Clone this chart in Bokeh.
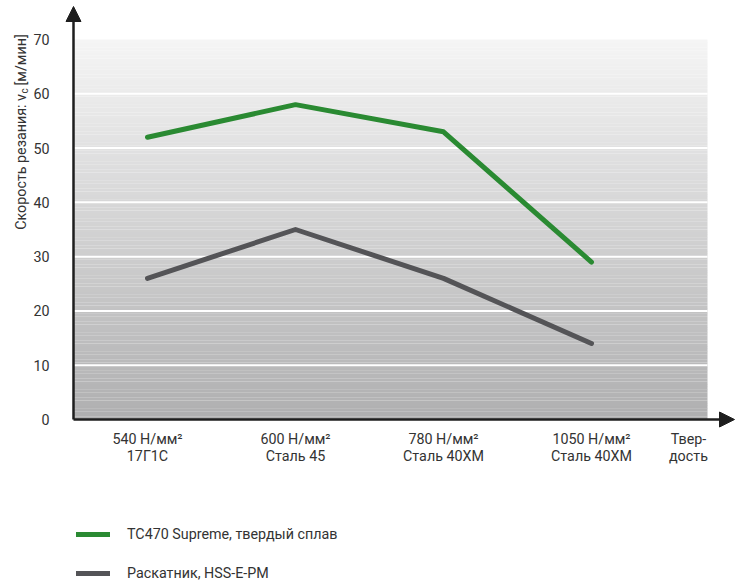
import math

from bokeh.core.properties import value
from bokeh.embed import file_html
from bokeh.models import (Arrow, ColumnDataSource, FixedTicker, Legend, LegendItem,
                          LinearAxis, NormalHead, Range1d)
from bokeh.plotting import figure
from bokeh.resources import INLINE

# --- data -------------------------------------------------------------------
categories = ["540 Н/мм²\n17Г1С", "600 Н/мм²\nСталь 45",
              "780 Н/мм²\nСталь 40ХМ", "1050 Н/мм²\nСталь 40ХМ"]
carbide_speed = [52, 58, 53, 29]      # TC470 Supreme
hss_speed = [26, 35, 26, 14]          # HSS-E-PM roller
y_ticks = [0, 10, 20, 30, 40, 50, 60, 70]
series_names = ["TC470 Supreme, твердый сплав", "Раскатник, HSS-E-PM"]
x_title = "Твер-\nдость"

# --- canvas geometry (pixels) ----------------------------------------------
W, H = 743, 580
AX_X, AX_Y = 73, 419          # where the axes cross
PX_CAT = 148.0                # pixels per category step
PX_UNIT = 380.0 / 70.0        # pixels per m/min
FONT = "Roboto"
FS = "14.3px"
TXT = "#333333"


def dx(px):
    return -0.5 + (px - AX_X) / PX_CAT


def dy(py):
    return (AX_Y - py) / PX_UNIT


xs = list(range(len(categories)))
x_left = dx(AX_X)
x_right = dx(707)
y_top = y_ticks[-1]

p = figure(width=W, height=H, output_backend="svg", toolbar_location=None,
           x_range=Range1d(dx(0), dx(W)), y_range=Range1d(dy(H), dy(0)),
           x_axis_location=None, y_axis_location=None, min_border=0,
           outline_line_color=None, background_fill_color="white",
           border_fill_color="white")
for g in p.grid:
    g.visible = False

# gradient backdrop: light at the top, darker toward zero
n_bands = 140
lo, hi = (0xAF, 0xAF, 0xB0), (0xF5, 0xF5, 0xF5)
band_h = y_top / n_bands
bottoms, tops, colors = [], [], []
for i in range(n_bands):
    t = (i + 0.5) / n_bands
    c = tuple(int(round(lo[k] + (hi[k] - lo[k]) * t)) for k in range(3))
    bottoms.append(i * band_h)
    tops.append((i + 1) * band_h + 0.02)
    colors.append("#%02x%02x%02x" % c)
p.quad(left=x_left, right=x_right, bottom=bottoms, top=tops,
       fill_color=colors, line_color=None)

# white horizontal grid lines
grid_y = [t for t in y_ticks if 0 < t < y_top]
p.segment(x0=x_left, x1=x_right, y0=grid_y, y1=grid_y,
          line_color="white", line_width=2)

# series
src = ColumnDataSource(dict(x=xs, carbide=carbide_speed, hss=hss_speed))
r_green = p.line("x", "carbide", source=src, line_color="#2a8a32", line_width=5,
                 line_cap="round", line_join="round")
r_gray = p.line("x", "hss", source=src, line_color="#545457", line_width=5,
                line_cap="round", line_join="round")

# axes with arrow heads
axis_color = "#1e1e1e"
p.add_layout(Arrow(end=NormalHead(size=15, fill_color=axis_color, line_color=axis_color),
                   x_start=x_left, y_start=0, x_end=x_left, y_end=dy(6),
                   line_color=axis_color, line_width=2.5))
p.add_layout(Arrow(end=NormalHead(size=15, fill_color=axis_color, line_color=axis_color),
                   x_start=x_left, y_start=0, x_end=dx(734), y_end=0,
                   line_color=axis_color, line_width=2.5))

yaxis = LinearAxis(fixed_location=x_left, ticker=FixedTicker(ticks=y_ticks),
                   axis_line_color=None, major_tick_line_color=None,
                   minor_tick_line_color=None, major_label_standoff=18,
                   major_label_text_font=FONT, major_label_text_font_size=FS,
                   major_label_text_color=TXT)
p.add_layout(yaxis, "left")

title_x = round(dx(688), 3)
x_tick_pos = xs + [title_x]
labels = categories + [x_title]
xaxis = LinearAxis(fixed_location=0, ticker=FixedTicker(ticks=x_tick_pos),
                   axis_line_color=None, major_tick_line_color=None,
                   minor_tick_line_color=None, major_label_standoff=5,
                   major_label_text_font=FONT, major_label_text_font_size=FS,
                   major_label_text_line_height=1.1,
                   major_label_text_color=TXT,
                   major_label_overrides=dict(zip(x_tick_pos, labels)))
p.add_layout(xaxis, "below")

# rotated y-axis title with subscript "c"
lab_x = dx(20)
ysrc_main = ColumnDataSource(dict(x=[lab_x], y=[dy(93.5)], t=["Скорость резания: v"]))
p.text("x", "y", text="t", source=ysrc_main, angle=math.pi / 2, text_align="right",
       text_baseline="middle", text_font=value(FONT), text_font_size=FS,
       text_color=TXT)
ysrc_sub = ColumnDataSource(dict(x=[dx(24)], y=[dy(93)], t=["c"]))
p.text("x", "y", text="t", source=ysrc_sub, angle=math.pi / 2, text_align="left",
       text_baseline="middle", text_font=value(FONT), text_font_size="10px",
       text_color=TXT)
ysrc_unit = ColumnDataSource(dict(x=[lab_x], y=[dy(85)], t=["[м/мин]"]))
p.text("x", "y", text="t", source=ysrc_unit, angle=math.pi / 2, text_align="left",
       text_baseline="middle", text_font=value(FONT), text_font_size=FS,
       text_color=TXT)

# legend below the chart
legend = Legend(items=[LegendItem(label=series_names[0], renderers=[r_green]),
                       LegendItem(label=series_names[1], renderers=[r_gray])],
                location=(76, -3), orientation="vertical",
                glyph_width=34, glyph_height=20, label_height=20, spacing=19,
                padding=0, margin=0, label_standoff=17,
                label_text_font=FONT, label_text_font_size=FS,
                label_text_color=TXT, border_line_color=None,
                background_fill_alpha=0)
p.add_layout(legend)

open("out.html", "w").write(file_html(p, INLINE))
